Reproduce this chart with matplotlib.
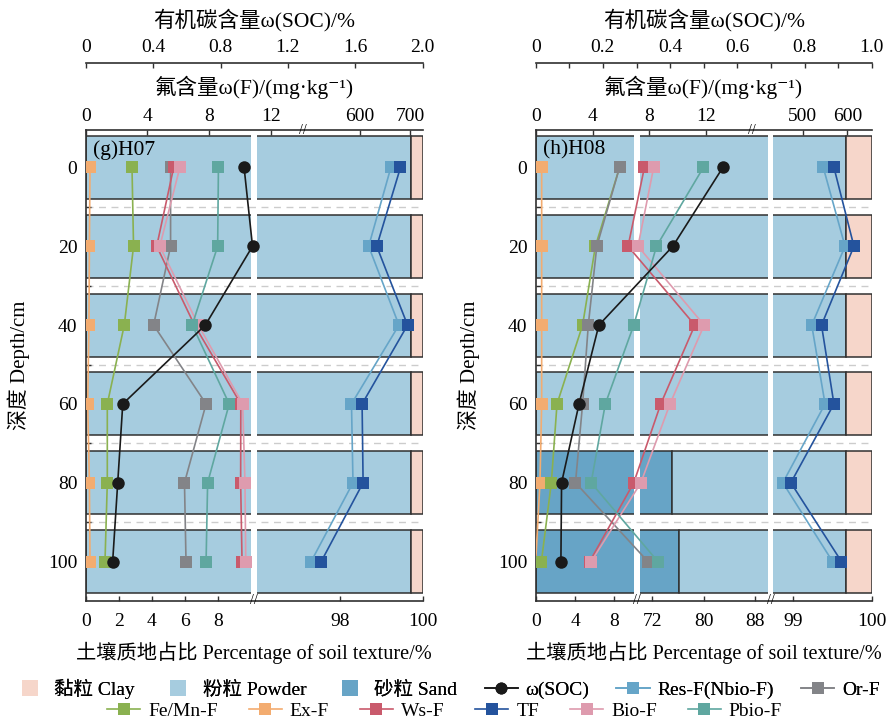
import numpy as np
import matplotlib
matplotlib.use('Agg')
import matplotlib.pyplot as plt
from matplotlib.lines import Line2D
from matplotlib.ticker import MultipleLocator

plt.rcParams['font.family'] = ['Liberation Serif', 'Noto Sans CJK SC', 'DejaVu Serif']
plt.rcParams['font.size'] = 14
plt.rcParams['xtick.labelsize'] = 14
plt.rcParams['ytick.labelsize'] = 14

depths = [0, 20, 40, 60, 80, 100]

# ---- H07 (g) ----
g_sand = [0, 0, 0, 0, 0, 0]
g_silt = [99.73, 99.73, 99.73, 99.73, 99.73, 99.73]
g_clay = [0.27, 0.27, 0.27, 0.27, 0.27, 0.27]
g_soc = [0.94, 0.99, 0.71, 0.22, 0.19, 0.16]
g_ex = [0.28, 0.24, 0.21, 0.13, 0.24, 0.28]
g_femn = [3.0, 3.1, 2.5, 1.4, 1.4, 1.25]
g_or = [5.5, 5.5, 4.4, 7.8, 6.4, 6.5]
g_ws = [5.7, 4.6, 7.05, 10.05, 10.04, 10.13]
g_bio = [6.1, 4.8, 7.3, 10.17, 10.32, 10.37]
g_pbio = [8.6, 8.55, 6.9, 9.3, 7.9, 7.8]
g_res = [662, 618, 678, 584, 587, 504]
g_tf = [681, 634, 695, 605, 607, 524]

# ---- H08 (h) ----
h_sand = [0, 0, 0, 0, 75.0, 76.1]
h_silt = [99.67, 99.67, 99.67, 99.67, 24.67, 23.57]
h_clay = [0.33, 0.33, 0.33, 0.33, 0.33, 0.33]
h_soc = [0.557, 0.408, 0.188, 0.129, 0.077, 0.075]
h_ex = [0.42, 0.42, 0.42, 0.42, 0.3, 0.0]
h_femn = [5.9, 4.2, 3.3, 1.5, 1.1, 0.4]
h_or = [5.9, 4.3, 3.7, 3.3, 2.8, 7.9]
h_ws = [7.65, 6.5, 11.2, 8.8, 6.9, 3.8]
h_bio = [8.3, 7.2, 11.85, 9.45, 7.4, 3.9]
h_pbio = [11.8, 8.5, 6.9, 4.9, 3.9, 8.6]
h_res = [546, 595, 520, 550, 455, 567]
h_tf = [570, 615, 542, 570, 473, 587]

series_names = ['Ex-F', 'Fe/Mn-F', 'Or-F', 'Ws-F', 'Bio-F', 'Pbio-F', 'Res-F(Nbio-F)', 'TF']
series_colors = ['#F3AC70', '#8AB150', '#838488', '#C95A6C', '#DE9BAE', '#5FA7A0', '#66A5C8', '#24539D']
C_CLAY, C_SILT, C_SAND = '#F6D6CA', '#A6CCDF', '#67A4C6'
EDGE = '#303030'
W, H = 889, 723


def piecewise(xp, fp):
    xp = np.asarray(xp, float)
    fp = np.asarray(fp, float)

    def f(x):
        x = np.asarray(x, float)
        y = np.interp(x, xp, fp)
        y = np.where(x < xp[0], fp[0] + (x - xp[0]) * (fp[1] - fp[0]) / (xp[1] - xp[0]), y)
        y = np.where(x > xp[-1], fp[-1] + (x - xp[-1]) * (fp[-1] - fp[-2]) / (xp[-1] - xp[-2]), y)
        return y
    return f


def broken(xp, fp):
    return (piecewise(xp, fp), piecewise(fp, xp))


def rect(x0, x1, y0, y1):
    return [x0 / W, 1 - y1 / H, (x1 - x0) / W, (y1 - y0) / H]


def panel(r, tag, sand, silt, clay, tex_xp, tex_fp, tex_ticks, gaps,
          f_xp, f_fp, f_ticks, f_series, soc, soc_max, soc_ticks, soc_minor):
    ax = fig.add_axes(r)
    ax.set_xscale('function', functions=broken(tex_xp, tex_fp))
    ax.set_xlim(0, 100)
    ax.set_ylim(110, -9.5)
    sand = np.array(sand)
    silt = np.array(silt)
    clay = np.array(clay)
    kw = dict(height=16, edgecolor=EDGE, linewidth=1.1, zorder=1)
    ax.barh(depths, sand, left=0, color=C_SAND, **kw)
    ax.barh(depths, silt, left=sand, color=C_SILT, **kw)
    ax.barh(depths, clay, left=sand + silt, color=C_CLAY, **kw)
    for a, b in gaps:
        ax.axvspan(a, b, color='white', lw=0, zorder=1.2)
        ax.text((a + b) / 2, 0, '//', transform=ax.get_xaxis_transform(),
                ha='center', va='center', fontsize=10, clip_on=False, zorder=5)
    for d in [10, 30, 50, 70, 90]:
        ax.axhline(d, color='#cccccc', lw=1.0, ls=(0, (5, 4)), zorder=1.3)
    for s in ['top', 'right']:
        ax.spines[s].set_visible(False)
    for s in ['left', 'bottom']:
        ax.spines[s].set_color(EDGE)
        ax.spines[s].set_linewidth(1.2)
    ax.set_yticks([0, 20, 40, 60, 80, 100])
    ax.set_yticks([10, 30, 50, 70, 90], minor=True)
    ax.set_xticks(tex_ticks)
    ax.set_xticklabels([str(t) for t in tex_ticks])
    ax.tick_params(axis='both', which='both', direction='in', length=3.6, width=1, color=EDGE)
    ax.tick_params(axis='x', pad=8.5)
    ax.tick_params(axis='y', pad=6)
    ax.set_xlabel('土壤质地占比 Percentage of soil texture/%', fontsize=14.6, labelpad=8.5)
    ax.set_ylabel('深度 Depth/cm', fontsize=15)
    ax.yaxis.set_label_coords(-0.165, 0.5)
    ax.text(0.022, 0.957, tag, transform=ax.transAxes, ha='left', va='center', fontsize=15.5)

    # fluorine axis
    axf = ax.twiny()
    axf.set_xscale('function', functions=broken(f_xp, f_fp))
    axf.set_xlim(f_xp[0], f_xp[-1])
    for s in ['left', 'right', 'bottom']:
        axf.spines[s].set_visible(False)
    axf.spines['top'].set_color(EDGE)
    axf.spines['top'].set_linewidth(1.2)
    axf.set_xticks(f_ticks)
    axf.set_xticklabels([str(t) for t in f_ticks])
    axf.tick_params(axis='x', direction='in', length=3.6, width=1, color=EDGE, pad=3.5)
    axf.set_xlabel('氟含量ω(F)/(mg·kg⁻¹)', fontsize=15.5, labelpad=10)
    axf.text((f_xp[1] + f_xp[2]) / 2, 1, '//', transform=axf.get_xaxis_transform(),
             ha='center', va='center', fontsize=10, clip_on=False)
    for vals, name, col in zip(f_series, series_names, series_colors):
        axf.plot(vals, depths, color=col, lw=1.2, marker='s', markersize=8.6,
                 markeredgewidth=0, label=name)

    # SOC axis
    axs = ax.twiny()
    axs.set_xlim(0, soc_max)
    for s in ['left', 'right', 'bottom']:
        axs.spines[s].set_visible(False)
    axs.spines['top'].set_position(('outward', 48.5))
    axs.spines['top'].set_color(EDGE)
    axs.spines['top'].set_linewidth(1.2)
    axs.set_xticks(soc_ticks)
    axs.set_xticklabels(['0'] + ['%.1f' % t for t in soc_ticks[1:]])
    if soc_minor:
        axs.xaxis.set_minor_locator(MultipleLocator(soc_minor))
    axs.tick_params(axis='x', which='both', direction='in', length=3.6, width=1, color=EDGE, pad=4.5)
    axs.set_xlabel('有机碳含量ω(SOC)/%', fontsize=15.5, labelpad=9)
    axs.plot(soc, depths, color='#1a1a1a', lw=1.2, marker='o', markersize=9,
             markeredgewidth=0)


fig = plt.figure(figsize=(8.89, 7.23), dpi=100)

panel(rect(85.7, 422.7, 130, 601), '(g)H07', g_sand, g_silt, g_clay,
      [0, 10, 96, 100], [0, 165.3, 171, 337], [0, 2, 4, 6, 8, 98, 100], [(10, 96)],
      [0, 14.08, 489, 725], [0, 217.3, 217.8, 337], [0, 4, 8, 12, 600, 700],
      [g_ex, g_femn, g_or, g_ws, g_bio, g_pbio, g_res, g_tf],
      g_soc, 2.0, [0, 0.4, 0.8, 1.2, 1.6, 2.0], None)

panel(rect(535.7, 871.7, 130, 601), '(h)H08', h_sand, h_silt, h_clay,
      [0, 10, 70, 90, 98.75, 100], [0, 98.3, 103.8, 232.1, 237.4, 336],
      [0, 4, 8, 72, 80, 88, 99, 100], [(10, 70), (90, 98.75)],
      [0, 15.2, 386, 655], [0, 216, 216.5, 336], [0, 4, 8, 12, 500, 600],
      [h_ex, h_femn, h_or, h_ws, h_bio, h_pbio, h_res, h_tf],
      h_soc, 1.0, [0, 0.2, 0.4, 0.6, 0.8, 1.0], 0.1)

col = dict(zip(series_names, series_colors))


def sq(c):
    return Line2D([], [], color=c, marker='s', markersize=11.5, lw=0, markeredgewidth=0)


def ln(c, m='s'):
    return Line2D([], [], color=c, marker=m, markersize=8.6, lw=1.2, markeredgewidth=0)


row1 = [sq(C_CLAY), sq(C_SILT), sq(C_SAND), ln('#1a1a1a', 'o'), ln(col['Res-F(Nbio-F)']), ln(col['Or-F'])]
row1_lab = ['黏粒 Clay', '粉粒 Powder', '砂粒 Sand', 'ω(SOC)', 'Res-F(Nbio-F)', 'Or-F']
row2 = [ln(col['Fe/Mn-F']), ln(col['Ex-F']), ln(col['Ws-F']), ln(col['TF']), ln(col['Bio-F']), ln(col['Pbio-F'])]
row2_lab = ['Fe/Mn-F', 'Ex-F', 'Ws-F', 'TF', 'Bio-F', 'Pbio-F']

leg1 = fig.legend(row1, row1_lab, loc='center', bbox_to_anchor=(0.502, 1 - 689 / H), ncol=6,
                  frameon=False, handlelength=1.7, handletextpad=0.4, columnspacing=1.4,
                  borderpad=0, borderaxespad=0)
fig.add_artist(leg1)
fig.legend(row2, row2_lab, loc='center', bbox_to_anchor=(0.5, 1 - 711 / H), ncol=6,
           frameon=False, handlelength=1.7, handletextpad=0.4, columnspacing=1.6,
           borderpad=0, borderaxespad=0)

fig.savefig('out.png', dpi=100)
